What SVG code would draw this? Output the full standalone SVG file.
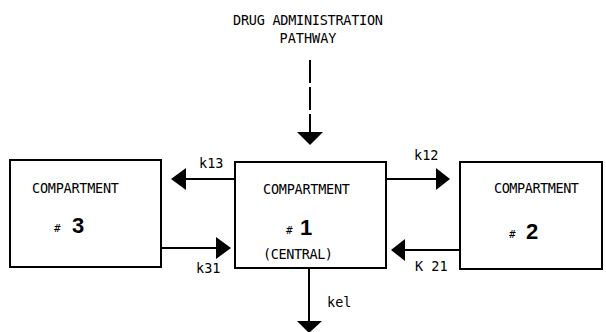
<svg xmlns="http://www.w3.org/2000/svg" width="606" height="332" viewBox="0 0 606 332">
<style>
.t{font-family:"DejaVu Sans Mono","Liberation Mono",monospace;font-size:13.5px;fill:#000}
.h{font-family:"DejaVu Sans Mono",monospace;font-size:11px;fill:#000}
.n{font-family:"Liberation Sans",Arial,sans-serif;font-size:22px;font-weight:bold;fill:#000}
.box{fill:#fff;stroke:#000;stroke-width:2}
.ln{stroke:#000;stroke-width:2;fill:none}
.hd{fill:#000}
</style>
<rect width="606" height="332" fill="#fff"/>
<g id="title">
<text class="t" x="308" y="25" text-anchor="middle" textLength="150">DRUG ADMINISTRATION</text>
<text class="t" x="308" y="43" text-anchor="middle">PATHWAY</text>
</g>
<g id="comp3">
<rect class="box" x="10" y="160" width="151" height="107"/>
<text class="t" x="32" y="193" textLength="87">COMPARTMENT</text>
<text class="h" x="54" y="232">#</text>
<text class="n" x="72" y="233">3</text>
</g>
<g id="comp1">
<rect class="box" x="235" y="162" width="151" height="106"/>
<text class="t" x="263" y="194" textLength="87">COMPARTMENT</text>
<text class="h" x="286" y="234">#</text>
<text class="n" x="300" y="235">1</text>
<text class="t" x="263" y="259" textLength="70">(CENTRAL)</text>
</g>
<g id="comp2">
<rect class="box" x="460" y="162" width="142" height="107"/>
<text class="t" x="494" y="193" textLength="85">COMPARTMENT</text>
<text class="h" x="509" y="238">#</text>
<text class="n" x="526" y="239">2</text>
</g>
<g id="connectors">
<line class="ln" x1="310" y1="60" x2="310" y2="133" stroke-dasharray="23,4"/>
<polygon class="hd" points="297,132 323,132 310,145"/>
<line class="ln" x1="235" y1="179" x2="184" y2="179"/>
<polygon class="hd" points="171,179 186,168 186,190"/>
<text class="t" x="199" y="168">k13</text>
<line class="ln" x1="161" y1="248" x2="218" y2="248"/>
<polygon class="hd" points="231,248 216,237 216,259"/>
<text class="t" x="196" y="273">k31</text>
<line class="ln" x1="386" y1="179" x2="438" y2="179"/>
<polygon class="hd" points="450,179 436,168 436,190"/>
<text class="t" x="414" y="160">k12</text>
<line class="ln" x1="460" y1="250" x2="403" y2="250"/>
<polygon class="hd" points="391,250 405,239 405,261"/>
<text class="t" x="415" y="271">K 21</text>
<line class="ln" x1="309" y1="268" x2="309" y2="322"/>
<polygon class="hd" points="297,321 322,321 309,333"/>
<text class="t" x="327" y="307">kel</text>
</g>
</svg>
